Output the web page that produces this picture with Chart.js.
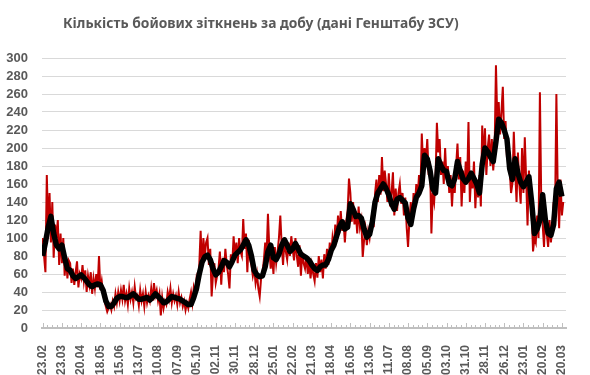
<!DOCTYPE html>
<html>
<head>
<meta charset="utf-8">
<script src="https://cdn.jsdelivr.net/npm/chart.js@4"></script>
<style>
  body { margin: 0; background: #fff; }
  #wrap { position: relative; width: 590px; height: 375px; }
  #title {
    position: absolute; left: 63px; top: 13px;
    font: bold 13.8px "Noto Sans", sans-serif; color: #595959; white-space: nowrap;
  }
</style>
</head>
<body>
<div id="wrap">
  <div id="title">Кількість бойових зіткнень за добу (дані Генштабу ЗСУ)</div>
  <canvas id="chart" width="590" height="375"></canvas>
</div>
<script>
// days counted from 23.02.2023
const tickLabels = ["23.02", "23.03", "20.04", "18.05", "15.06", "13.07", "10.08", "07.09", "05.10",
  "02.11", "30.11", "28.12", "25.01", "22.02", "21.03", "18.04", "16.05", "13.06", "11.07", "08.08",
  "05.09", "03.10", "31.10", "28.11", "26.12", "23.01", "20.02", "20.03"];

// daily clashes, read every 2nd day
const dailyStep = 2;
const dailyClashes = [
  100, 80, 62, 170, 110, 150, 95, 140, 78, 115, 100, 120, 70, 105, 72, 100, 58, 80, 55, 75,
  72, 50, 66, 48, 62, 74, 45, 60, 55, 70, 52, 64, 40, 58, 48, 62, 38, 55, 44, 60,
  45, 80, 42, 52, 38, 30, 24, 18, 22, 26, 20, 30, 24, 38, 28, 40, 30, 42, 32, 48,
  30, 38, 26, 44, 32, 40, 28, 46, 33, 36, 25, 42, 30, 38, 24, 40, 28, 36, 30, 44,
  30, 50, 36, 42, 30, 38, 14, 34, 22, 30, 26, 40, 32, 44, 28, 38, 30, 36, 26, 40,
  28, 34, 24, 30, 20, 28, 22, 32, 40, 28, 45, 38, 55, 48, 70, 108, 66, 100, 80, 95,
  100, 70, 88, 35, 60, 72, 50, 58, 66, 85, 48, 78, 62, 88, 70, 60, 44, 82, 70, 102,
  78, 95, 72, 100, 85, 80, 121, 88, 105, 62, 98, 76, 70, 58, 66, 50, 60, 44, 35, 55,
  62, 75, 95, 80, 127, 88, 66, 80, 60, 90, 72, 85, 100, 125, 92, 70, 98, 85, 76, 95,
  80, 102, 88, 75, 100, 80, 68, 92, 58, 84, 72, 66, 80, 60, 74, 55, 70, 60, 52, 72,
  56, 80, 62, 76, 55, 82, 66, 88, 70, 95, 80, 100, 88, 115, 96, 125, 105, 130, 108, 120,
  95, 118, 130, 166, 150, 118, 140, 115, 128, 105, 135, 112, 120, 79, 98, 110, 92, 108, 100, 115,
  130, 112, 150, 165, 140, 170, 148, 190, 152, 175, 160, 140, 172, 135, 150, 173, 125, 155, 130, 150,
  160, 138, 150, 125, 145, 112, 90, 120, 140, 118, 150, 135, 160, 145, 170, 150, 216, 180, 200, 185,
  210, 170, 185, 105, 150, 140, 165, 228, 195, 210, 170, 185, 160, 200, 165, 180, 150, 170, 135, 165,
  150, 180, 205, 165, 190, 135, 175, 150, 185, 160, 229, 140, 170, 155, 185, 133, 165, 145, 170, 135,
  225, 185, 222, 170, 200, 215, 180, 210, 175, 195, 292, 230, 251, 215, 240, 268, 210, 230, 190, 205,
  175, 150, 161, 218, 175, 140, 195, 160, 138, 200, 150, 212, 165, 114, 175, 150, 130, 85, 100, 95,
  125, 100, 262, 140, 115, 90, 130, 105, 90, 120, 95, 110, 140, 125, 260, 150, 111, 165, 125, 140
];

// weekly moving average, read every 4th day
const avgStep = 4;
const movingAvg = [
  80, 95, 112, 124, 105, 92, 88, 92, 78, 66,
  64, 58, 55, 57, 59, 56, 52, 48, 46, 48,
  49, 48, 42, 30, 24, 24, 28, 33, 35, 35,
  34, 34, 36, 38, 35, 32, 32, 33, 34, 31,
  34, 38, 35, 32, 28, 29, 32, 35, 34, 33,
  32, 30, 28, 26, 26, 34, 44, 60, 73, 79,
  81, 76, 66, 59, 62, 68, 75, 73, 68, 74,
  81, 84, 87, 92, 98, 92, 80, 64, 59, 57,
  58, 68, 85, 92, 78, 76, 82, 92, 98, 92,
  85, 88, 94, 88, 82, 80, 78, 75, 70, 66,
  64, 68, 70, 70, 76, 86, 92, 102, 112, 118,
  110, 112, 138, 132, 124, 125, 122, 110, 101, 104,
  118, 140, 150, 155, 160, 155, 148, 138, 132, 143,
  145, 142, 139, 122, 115, 132, 145, 150, 158, 192,
  188, 175, 155, 150, 188, 180, 175, 174, 160, 158,
  166, 185, 175, 166, 162, 166, 172, 166, 160, 150,
  182, 200, 196, 190, 185, 207, 232, 228, 220, 210,
  177, 165, 188, 172, 162, 157, 162, 168, 140, 105,
  110, 120, 148, 120, 105, 103, 115, 155, 162, 146
];

const gray = "#595959";

// small upward tick marks on the date axis, every week, longer every 4 weeks
const axisTicks = {
  id: "axisTicks",
  afterDraw(chart) {
    const sx = chart.scales.x;
    const ctx = chart.ctx;
    const y0 = chart.chartArea.bottom - 1;
    ctx.save();
    ctx.strokeStyle = "#bfbfbf";
    ctx.lineWidth = 1;
    sx.ticks.forEach(t => {
      const px = Math.round(sx.getPixelForValue(t.value)) + 0.5;
      const len = t.value % 28 === 0 ? 4 : 2;
      ctx.beginPath();
      ctx.moveTo(px, y0);
      ctx.lineTo(px, y0 - len);
      ctx.stroke();
    });
    ctx.restore();
  }
};

new Chart(document.getElementById("chart"), {
  type: "line",
  data: {
    datasets: [
      {
        label: "Середнє",
        data: movingAvg.map((v, i) => ({ x: i * avgStep, y: v })),
        borderColor: "#000",
        borderWidth: 5.5,
        borderJoinStyle: "round",
        pointRadius: 0
      },
      {
        label: "Зіткнення",
        data: dailyClashes.map((v, i) => ({ x: i * dailyStep, y: v })),
        borderColor: "#c00000",
        borderWidth: 2,
        pointRadius: 0
      }
    ]
  },
  options: {
    responsive: false,
    animation: false,
    layout: { padding: { left: 0, right: 24, top: 58, bottom: 0 } },
    plugins: { legend: { display: false }, tooltip: { enabled: false } },
    scales: {
      x: {
        type: "linear",
        min: -1,
        max: 762,
        afterBuildTicks: s => {
          const t = [];
          for (let d = 0; d <= 756; d += 7) t.push({ value: d });
          s.ticks = t;
        },
        afterFit: s => { s.height = 47; },
        grid: { display: false },
        border: { color: "#bfbfbf", width: 2 },
        ticks: {
          autoSkip: false,
          minRotation: 90,
          maxRotation: 90,
          padding: 9,
          color: gray,
          font: { family: "Liberation Sans", weight: "bold", size: 12 },
          callback: v => (v % 28 === 0 ? tickLabels[v / 28] : "")
        }
      },
      y: {
        min: 0,
        max: 300,
        afterFit: s => { s.width = 42; },
        grid: { color: "#d9d9d9", drawTicks: false },
        border: { display: false },
        ticks: {
          stepSize: 20,
          autoSkip: false,
          padding: 14,
          color: gray,
          font: { family: "Liberation Sans", weight: "bold", size: 13 }
        }
      }
    }
  },
  plugins: [axisTicks]
});
</script>
</body>
</html>
